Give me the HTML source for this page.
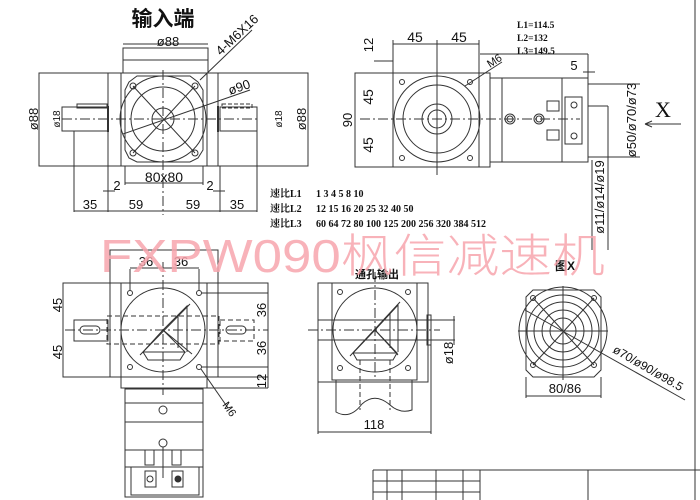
<!DOCTYPE html>
<html><head><meta charset="utf-8"><style>
html,body{margin:0;padding:0;background:#fff;width:700px;height:500px;overflow:hidden}
svg{display:block}
text{font-family:"Liberation Sans","Noto Sans CJK SC",sans-serif;fill:#111}
.sf{font-family:"Liberation Serif","Noto Serif CJK SC",serif}
</style></head><body>
<svg width="700" height="500" viewBox="0 0 700 500" xmlns="http://www.w3.org/2000/svg">
<g stroke="#333" stroke-width="1" fill="none">
<line x1="695" y1="0" x2="695" y2="500"/>
<line x1="373" y1="470" x2="700" y2="470"/>
<line x1="373" y1="481" x2="480" y2="481"/>
<line x1="373" y1="492" x2="480" y2="492"/>
<line x1="373" y1="470" x2="373" y2="500"/>
<line x1="387" y1="470" x2="387" y2="500"/>
<line x1="402" y1="470" x2="402" y2="500"/>
<line x1="436" y1="470" x2="436" y2="500"/>
<line x1="463" y1="470" x2="463" y2="500"/>
<line x1="480" y1="470" x2="480" y2="500"/>
<line x1="588" y1="470" x2="588" y2="500"/>

<rect x="39" y="73" width="269" height="93"/>
<rect x="121" y="73" width="86" height="93"/>
<rect x="123" y="48" width="85" height="25"/>
<line x1="123" y1="60" x2="208" y2="60"/>
<line x1="108" y1="73" x2="108" y2="166"/>
<line x1="218" y1="73" x2="218" y2="166"/>
<path d="M129 82 L137 76 L190 76 L198 82 L203 90 L203 150 L198 158 L190 162 L137 162 L129 158 L125 150 L125 90 Z"/>
<circle cx="163" cy="119" r="43"/>
<circle cx="163" cy="119" r="32"/>
<circle cx="163" cy="119" r="11"/>
<circle cx="133" cy="86" r="3"/><circle cx="195" cy="86" r="3"/>
<circle cx="133" cy="153" r="3"/><circle cx="195" cy="153" r="3"/>
<line x1="133" y1="86" x2="195" y2="153"/><line x1="195" y1="86" x2="133" y2="153"/>
<line x1="163" y1="70" x2="163" y2="215" stroke-dasharray="10 3 2 3"/>
<line x1="62" y1="119" x2="260" y2="119" stroke-dasharray="10 3 2 3"/>
<rect x="62" y="107" width="46" height="24"/>
<rect x="77" y="104" width="30" height="4"/>
<rect x="220" y="107" width="37" height="24"/>
<rect x="222" y="104" width="30" height="4" stroke-dasharray="4 2"/>
<line x1="108" y1="106" x2="108" y2="132" stroke-width="2"/>
<line x1="218" y1="106" x2="218" y2="132" stroke-width="2"/>
<line x1="123" y1="44" x2="208" y2="44"/>
<line x1="200" y1="80" x2="252" y2="30"/>
<line x1="123" y1="134" x2="250" y2="90"/>
<line x1="125" y1="166" x2="125" y2="185"/><line x1="203" y1="166" x2="203" y2="185"/>
<line x1="125" y1="183" x2="203" y2="183"/>
<line x1="74" y1="131" x2="74" y2="212"/>
<line x1="108" y1="166" x2="108" y2="212"/>
<line x1="220" y1="166" x2="220" y2="212"/>
<line x1="257" y1="131" x2="257" y2="212"/>
<line x1="74" y1="211" x2="257" y2="211"/>
<line x1="103" y1="191" x2="115" y2="191"/><line x1="213" y1="191" x2="225" y2="191"/>

<rect x="355" y="73" width="135" height="94"/>
<rect x="393" y="73" width="86" height="94"/>
<rect x="393" y="44" width="86" height="29"/>
<line x1="374" y1="61" x2="393" y2="61"/>
<line x1="374" y1="73" x2="393" y2="73"/>
<line x1="393" y1="40" x2="393" y2="73"/>
<line x1="437" y1="40" x2="437" y2="175"/>
<line x1="479" y1="40" x2="479" y2="73"/>
<line x1="360" y1="119" x2="580" y2="119" stroke-dasharray="10 3 2 3"/>
<circle cx="437" cy="119" r="43"/>
<circle cx="437" cy="119" r="34"/>
<circle cx="437" cy="119" r="15"/>
<circle cx="437" cy="119" r="9"/>
<circle cx="402" cy="82" r="2.5"/><circle cx="470" cy="82" r="2.5"/>
<circle cx="402" cy="158" r="2.5"/><circle cx="470" cy="158" r="2.5"/>
<line x1="465" y1="86" x2="502" y2="62"/>
<rect x="490" y="78" width="98" height="84"/>
<line x1="502" y1="78" x2="502" y2="162"/>
<line x1="562" y1="78" x2="562" y2="162"/>
<line x1="480" y1="54" x2="588" y2="54"/><line x1="588" y1="54" x2="588" y2="78"/>
<circle cx="510" cy="119" r="5"/><circle cx="510" cy="119" r="3"/>
<circle cx="539" cy="119" r="5"/><circle cx="539" cy="119" r="3"/>
<rect x="547" y="101" width="12" height="10"/><rect x="547" y="130" width="12" height="10"/>
<rect x="565" y="97" width="17" height="47"/>
<circle cx="574" cy="105" r="3"/><circle cx="574" cy="136" r="3"/>
<line x1="583" y1="72" x2="595" y2="72"/>
<line x1="588" y1="84" x2="640" y2="84"/>
<line x1="588" y1="157" x2="640" y2="157"/>
<line x1="588" y1="106" x2="608" y2="106"/>
<line x1="608" y1="106" x2="608" y2="250"/>
<line x1="592" y1="160" x2="592" y2="250"/>
<line x1="645" y1="124" x2="681" y2="124"/>
<path d="M645 124 L652 121 M645 124 L652 127"/>

<rect x="110" y="250" width="108" height="33"/>
<rect x="63" y="283" width="205" height="94"/>
<rect x="121" y="283" width="86" height="105"/>
<line x1="110" y1="283" x2="110" y2="377"/>
<line x1="218" y1="283" x2="218" y2="377"/>
<circle cx="163" cy="330" r="42"/>
<circle cx="130" cy="293" r="2.5"/><circle cx="199" cy="293" r="2.5"/>
<circle cx="130" cy="367" r="2.5"/><circle cx="199" cy="367" r="2.5"/>
<line x1="163" y1="262" x2="163" y2="395" stroke-dasharray="10 3 2 3"/>
<line x1="65" y1="330" x2="268" y2="330" stroke-dasharray="10 3 2 3"/>
<rect x="107" y="316" width="112" height="28" stroke-dasharray="5 3"/>
<rect x="74" y="320" width="34" height="21"/>
<rect x="80" y="326" width="20" height="8" rx="4"/>
<rect x="226" y="326" width="20" height="8" rx="4"/>
<rect x="220" y="320" width="34" height="21" stroke-dasharray="5 3"/>
<path d="M163 330 L143 352 L185 352 Z M143 352 L148 360 L180 360 L185 352"/>
<path d="M163 330 L187 306 L187 352 M178 316 L178 348"/>
<line x1="163" y1="330" x2="192" y2="354"/>
<line x1="140" y1="355" x2="190" y2="304"/>
<line x1="130" y1="269" x2="130" y2="290"/><line x1="199" y1="269" x2="199" y2="290"/>
<line x1="130" y1="268" x2="199" y2="268"/>
<line x1="202" y1="293" x2="268" y2="293"/><line x1="202" y1="367" x2="268" y2="367"/>
<line x1="268" y1="293" x2="268" y2="388"/>
<line x1="207" y1="388" x2="268" y2="388"/>
<line x1="201" y1="369" x2="228" y2="408"/>
<rect x="125" y="389" width="78" height="108"/>
<line x1="125" y1="403" x2="203" y2="403"/>
<line x1="125" y1="422" x2="203" y2="422"/>
<line x1="125" y1="450" x2="203" y2="450"/>
<line x1="125" y1="467" x2="203" y2="467"/>
<circle cx="163" cy="410" r="4"/><circle cx="163" cy="443" r="4"/>
<line x1="163" y1="447" x2="163" y2="478"/>
<rect x="131" y="467" width="68" height="28"/>
<rect x="145" y="450" width="9" height="15"/><rect x="172" y="450" width="9" height="15"/>
<rect x="145" y="471" width="11" height="16"/><rect x="172" y="471" width="11" height="16"/>
<circle cx="150" cy="479" r="3"/><circle cx="178" cy="479" r="3" fill="#333"/>

<rect x="318" y="283" width="110" height="99"/>
<rect x="332" y="283" width="85" height="97"/>
<circle cx="375" cy="330" r="42"/>
<circle cx="340" cy="292" r="2.5"/><circle cx="408" cy="292" r="2.5"/>
<circle cx="340" cy="368" r="2.5"/><circle cx="408" cy="368" r="2.5"/>
<line x1="375" y1="272" x2="375" y2="380" stroke-dasharray="10 3 2 3"/>
<line x1="308" y1="330" x2="440" y2="330" stroke-dasharray="10 3 2 3"/>
<line x1="318" y1="320" x2="455" y2="320"/><line x1="318" y1="340" x2="455" y2="340"/>
<rect x="427" y="315" width="4" height="30"/>
<line x1="454" y1="316" x2="454" y2="345"/>
<path d="M375 330 L353 353 L397 353 Z M353 353 L357 360 L393 360 L397 353"/>
<path d="M375 330 L398 305 L398 352 M390 313 L390 348"/>
<line x1="375" y1="330" x2="398" y2="355"/>
<line x1="350" y1="356" x2="400" y2="302"/>
<line x1="360" y1="360" x2="360" y2="410" stroke-dasharray="5 3"/>
<line x1="390" y1="360" x2="390" y2="410" stroke-dasharray="5 3"/>
<path d="M336 380 L336 412 Q350 420 362 404 Q375 392 390 405 Q400 414 412 410 L412 380"/>
<line x1="318" y1="382" x2="318" y2="434"/>
<line x1="431" y1="345" x2="431" y2="434"/>
<line x1="318" y1="432" x2="431" y2="432"/>

<path d="M526 297 L533 290 L594 290 L601 297 L601 370 L594 377 L533 377 L526 370 Z"/>
<circle cx="563" cy="331" r="44"/>
<circle cx="563" cy="331" r="36"/>
<circle cx="563" cy="331" r="29"/>
<circle cx="563" cy="331" r="21"/>
<circle cx="563" cy="331" r="13"/>
<circle cx="533" cy="298" r="2.5"/><circle cx="594" cy="298" r="2.5"/>
<circle cx="533" cy="365" r="2.5"/><circle cx="594" cy="365" r="2.5"/>
<line x1="533" y1="298" x2="594" y2="365"/><line x1="594" y1="298" x2="533" y2="365"/>
<line x1="518" y1="331" x2="608" y2="331"/>
<line x1="563" y1="286" x2="563" y2="380"/>
<line x1="525" y1="310" x2="685" y2="400"/>
<line x1="526" y1="377" x2="526" y2="398"/><line x1="601" y1="377" x2="601" y2="398"/>
<line x1="526" y1="396" x2="601" y2="396"/>
</g>

<g font-size="13">
<text x="163" y="26" font-size="21" font-weight="bold" text-anchor="middle">输入端</text>
<text x="168" y="46" text-anchor="middle">ø88</text>
<text x="240" y="38" transform="rotate(-43 240 38)" text-anchor="middle">4-M6X16</text>
<text x="230" y="95" transform="rotate(-19 230 95)">ø90</text>
<text x="38" y="119" transform="rotate(-90 38 119)" text-anchor="middle">ø88</text>
<text x="60" y="119" font-size="10" transform="rotate(-90 60 119)" text-anchor="middle">ø18</text>
<text x="282" y="119" font-size="10" transform="rotate(-90 282 119)" text-anchor="middle">ø18</text>
<text x="306" y="119" transform="rotate(-90 306 119)" text-anchor="middle">ø88</text>
<text x="164" y="182" text-anchor="middle" font-size="14">80x80</text>
<text x="117" y="190" text-anchor="middle">2</text>
<text x="210" y="190" text-anchor="middle">2</text>
<text x="90" y="209" text-anchor="middle">35</text>
<text x="136" y="209" text-anchor="middle">59</text>
<text x="193" y="209" text-anchor="middle">59</text>
<text x="237" y="209" text-anchor="middle">35</text>

<text x="415" y="42" text-anchor="middle" font-size="14">45</text>
<text x="459" y="42" text-anchor="middle" font-size="14">45</text>
<text x="373" y="45" transform="rotate(-90 373 45)" text-anchor="middle">12</text>
<text x="373" y="97" transform="rotate(-90 373 97)" text-anchor="middle" font-size="14">45</text>
<text x="373" y="145" transform="rotate(-90 373 145)" text-anchor="middle" font-size="14">45</text>
<text x="352" y="120" transform="rotate(-90 352 120)" text-anchor="middle">90</text>
<text x="490" y="68" transform="rotate(-33 490 68)" font-size="11">M6</text>
<g font-size="9.5" font-weight="bold" class="sf"><text x="517" y="28" class="sf">L1=114.5</text><text x="517" y="41" class="sf">L2=132</text><text x="517" y="54" class="sf">L3=149.5</text></g>
<text x="574" y="70" text-anchor="middle">5</text>
<text x="663" y="117" font-size="22" text-anchor="middle" class="sf">X</text>
<text x="636" y="120" transform="rotate(-90 636 120)" text-anchor="middle">ø50/ø70/ø73</text>
<text x="604" y="197" transform="rotate(-90 604 197)" text-anchor="middle">ø11/ø14/ø19</text>

<g font-size="10" font-weight="bold">
<text x="270" y="197" class="sf">速比L1</text><text x="316" y="197" class="sf">1 3 4 5 8 10</text>
<text x="270" y="212" class="sf">速比L2</text><text x="316" y="212" class="sf">12 15 16 20 25 32 40 50</text>
<text x="270" y="227" class="sf">速比L3</text><text x="316" y="227" class="sf">60 64 72 80 100 125 200 256 320 384 512</text>
</g>

<text x="146" y="266" text-anchor="middle">36</text>
<text x="181" y="266" text-anchor="middle">36</text>
<text x="62" y="305" transform="rotate(-90 62 305)" text-anchor="middle">45</text>
<text x="62" y="352" transform="rotate(-90 62 352)" text-anchor="middle">45</text>
<text x="266" y="310" transform="rotate(-90 266 310)" text-anchor="middle">36</text>
<text x="266" y="348" transform="rotate(-90 266 348)" text-anchor="middle">36</text>
<text x="266" y="381" transform="rotate(-90 266 381)" text-anchor="middle">12</text>
<text x="222" y="405" font-size="11" transform="rotate(55 222 405)">M6</text>

<text x="377" y="278" text-anchor="middle" font-size="11" font-weight="bold">通孔输出</text>
<text x="453" y="353" transform="rotate(-90 453 353)" text-anchor="middle">ø18</text>
<text x="374" y="429" text-anchor="middle">118</text>

<text x="565" y="270" text-anchor="middle" font-size="12" font-weight="bold">图X</text>
<text x="565" y="393" text-anchor="middle">80/86</text>
<text x="612" y="352" transform="rotate(30 612 352)" font-size="12">ø70/ø90/ø98.5</text>
</g>

<text x="100" y="272" font-size="46" style="fill:#f7a5ad;opacity:0.85;font-family:'Liberation Sans','Noto Sans CJK SC',sans-serif;font-weight:300" textLength="505" lengthAdjust="spacingAndGlyphs">FXPW090枫信减速机</text>
</svg>
</body></html>
